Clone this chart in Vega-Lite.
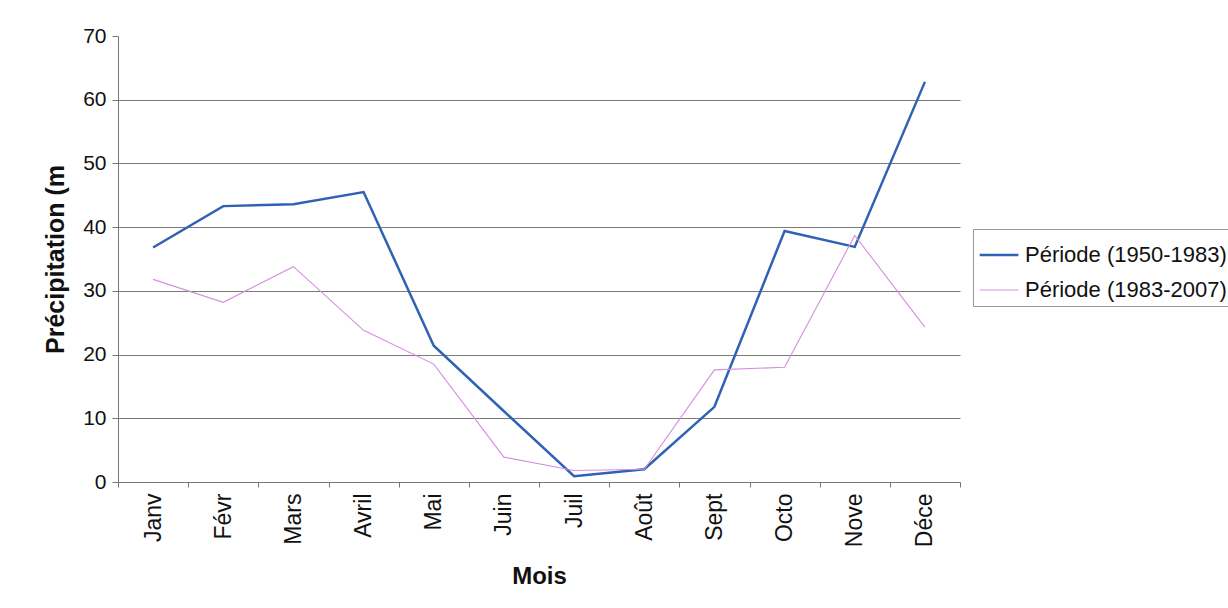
{
  "$schema": "https://vega.github.io/schema/vega-lite/v6.json",
  "autosize": {"type": "none"},
  "padding": {"left": 118, "top": 36, "right": 268, "bottom": 126},
  "width": 842,
  "height": 446,
  "background": "white",
  "config": {
    "view": {"stroke": null},
    "font": "Liberation Sans"
  },
  "data": {
    "values": [
      {"mois": "Janv", "periode": "Période (1950-1983)", "precip": 36.8},
      {"mois": "Févr", "periode": "Période (1950-1983)", "precip": 43.3},
      {"mois": "Mars", "periode": "Période (1950-1983)", "precip": 43.6},
      {"mois": "Avril", "periode": "Période (1950-1983)", "precip": 45.5},
      {"mois": "Mai", "periode": "Période (1950-1983)", "precip": 21.4},
      {"mois": "Juin", "periode": "Période (1950-1983)", "precip": 11.1},
      {"mois": "Juil", "periode": "Période (1950-1983)", "precip": 0.9},
      {"mois": "Août", "periode": "Période (1950-1983)", "precip": 2.0},
      {"mois": "Sept", "periode": "Période (1950-1983)", "precip": 11.8},
      {"mois": "Octo", "periode": "Période (1950-1983)", "precip": 39.4},
      {"mois": "Nove", "periode": "Période (1950-1983)", "precip": 36.9},
      {"mois": "Déce", "periode": "Période (1950-1983)", "precip": 62.8},
      {"mois": "Janv", "periode": "Période (1983-2007)", "precip": 31.8},
      {"mois": "Févr", "periode": "Période (1983-2007)", "precip": 28.2},
      {"mois": "Mars", "periode": "Période (1983-2007)", "precip": 33.8},
      {"mois": "Avril", "periode": "Période (1983-2007)", "precip": 23.8},
      {"mois": "Mai", "periode": "Période (1983-2007)", "precip": 18.5},
      {"mois": "Juin", "periode": "Période (1983-2007)", "precip": 3.9},
      {"mois": "Juil", "periode": "Période (1983-2007)", "precip": 1.8},
      {"mois": "Août", "periode": "Période (1983-2007)", "precip": 2.0},
      {"mois": "Sept", "periode": "Période (1983-2007)", "precip": 17.6},
      {"mois": "Octo", "periode": "Période (1983-2007)", "precip": 18.0},
      {"mois": "Nove", "periode": "Période (1983-2007)", "precip": 38.7},
      {"mois": "Déce", "periode": "Période (1983-2007)", "precip": 24.3}
    ]
  },
  "mark": {"type": "line"},
  "encoding": {
    "x": {
      "field": "mois",
      "type": "nominal",
      "sort": ["Janv", "Févr", "Mars", "Avril", "Mai", "Juin", "Juil", "Août", "Sept", "Octo", "Nove", "Déce"],
      "scale": {"paddingInner": 0, "paddingOuter": 0},
      "axis": {
        "title": "Mois",
        "titleFont": "Liberation Sans",
        "titleFontSize": 24,
        "titleFontWeight": "bold",
        "titleColor": "#111",
        "titlePadding": 18,
        "labelAngle": 270,
        "labelFontSize": 23,
        "labelColor": "#111",
        "labelPadding": 6,
        "tickBand": "extent",
        "domainColor": "#777",
        "tickColor": "#777",
        "tickSize": 5,
        "grid": false
      }
    },
    "y": {
      "field": "precip",
      "type": "quantitative",
      "scale": {"domain": [0, 70], "nice": false},
      "axis": {
        "title": "Précipitation (m",
        "titleFont": "Liberation Sans",
        "titleFontSize": 25,
        "titleFontWeight": "bold",
        "titleColor": "#111",
        "titlePadding": 14,
        "values": [0, 10, 20, 30, 40, 50, 60, 70],
        "labelFontSize": 21,
        "labelColor": "#111",
        "labelPadding": 6,
        "domainColor": "#777",
        "tickColor": "#777",
        "tickSize": 6,
        "grid": true,
        "gridColor": "#7a7a7a",
        "gridOpacity": {"condition": {"test": "datum.value == 70", "value": 0}, "value": 1}
      }
    },
    "color": {
      "field": "periode",
      "type": "nominal",
      "scale": {"domain": ["Période (1950-1983)", "Période (1983-2007)"], "range": ["#2f62b4", "#d68ee0"]},
      "legend": {
        "title": null,
        "orient": "none",
        "legendX": 855,
        "legendY": 193,
        "strokeColor": "#999",
        "fillColor": "white",
        "padding": 5,
        "symbolType": "stroke",
        "symbolSize": 1500,
        "symbolStrokeWidth": 2,
        "labelFontSize": 22,
        "labelColor": "#111",
        "labelOffset": 5,
        "labelLimit": 400,
        "rowPadding": 4
      }
    },
    "strokeWidth": {
      "field": "periode",
      "type": "nominal",
      "scale": {"domain": ["Période (1950-1983)", "Période (1983-2007)"], "range": [2.5, 1.1]},
      "legend": null
    }
  }
}
